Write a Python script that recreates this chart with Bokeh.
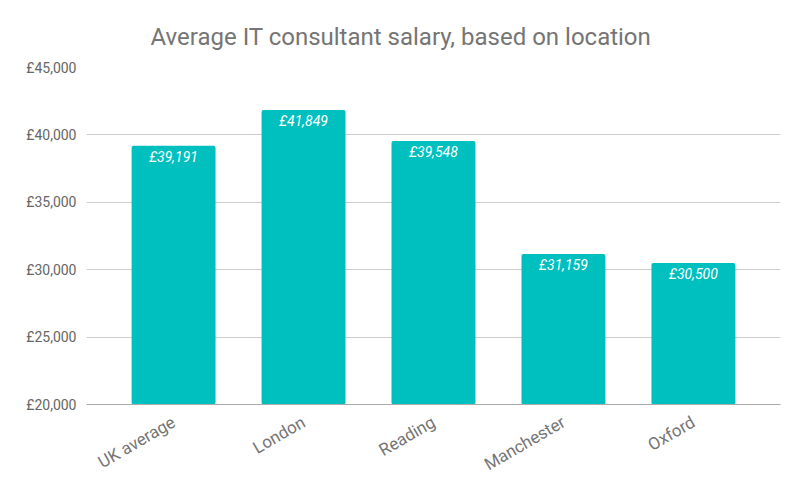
from bokeh.plotting import figure
from bokeh.models import FactorRange, Range1d, ColumnDataSource, Title
from bokeh.embed import file_html
from bokeh.resources import INLINE
from bokeh.core.properties import value
import math

title_text = "Average IT consultant salary, based on location"
categories = ["UK average", "London", "Reading", "Manchester", "Oxford"]
salaries = [39191, 41849, 39548, 31159, 30500]
bar_labels = ["£39,191", "£41,849", "£39,548", "£31,159", "£30,500"]
y_ticks = [20000, 25000, 30000, 35000, 40000, 45000]
y_tick_labels = ["£20,000", "£25,000", "£30,000", "£35,000", "£40,000", "£45,000"]

src = ColumnDataSource(dict(cat=categories, val=salaries, lab=bar_labels))

p = figure(width=802, height=488, output_backend="svg", toolbar_location=None,
           x_range=FactorRange(factors=categories, range_padding=0.068),
           y_range=Range1d(20000, 45000),
           min_border_left=86, min_border_right=22, min_border_top=67, min_border_bottom=84)
p.title = Title(text=title_text, align="left",
                text_font="Roboto", text_font_size="24px", text_color="#757575",
                text_font_style="normal", offset=64, standoff=34)
p.outline_line_color = None
p.background_fill_color = "white"
p.border_fill_color = "white"

p.vbar(x="cat", top="val", bottom=20000, width=0.646, source=src,
       fill_color="#00bfbf", line_color=None, border_radius=2)
p.text(x="cat", y="val", text="lab", source=src, y_offset=3,
       text_align="center", text_baseline="top", text_color="white",
       text_font=value("Roboto"), text_font_size="14px", text_font_style="italic")

p.xgrid.grid_line_color = None
p.ygrid.grid_line_color = "#cccccc"
p.ygrid.ticker = y_ticks
p.yaxis.ticker = y_ticks
p.yaxis.major_label_overrides = dict(zip(y_ticks, y_tick_labels))
p.yaxis.axis_line_color = None
p.yaxis.major_tick_line_color = None
p.yaxis.minor_tick_line_color = None
p.yaxis.major_label_text_font = "Roboto"
p.yaxis.major_label_text_font_size = "14px"
p.yaxis.major_label_text_color = "#666666"
p.yaxis.major_label_standoff = 4

p.xaxis.axis_line_color = "#aaaaaa"
p.xaxis.major_tick_line_color = None
p.xaxis.minor_tick_line_color = None
p.xaxis.major_label_orientation = math.pi / 6
p.xaxis.major_label_text_font = "Roboto"
p.xaxis.major_label_text_font_size = "17px"
p.xaxis.major_label_text_color = "#757575"
p.xaxis.major_label_standoff = 10

open("out.html", "w").write(file_html(p, INLINE))
